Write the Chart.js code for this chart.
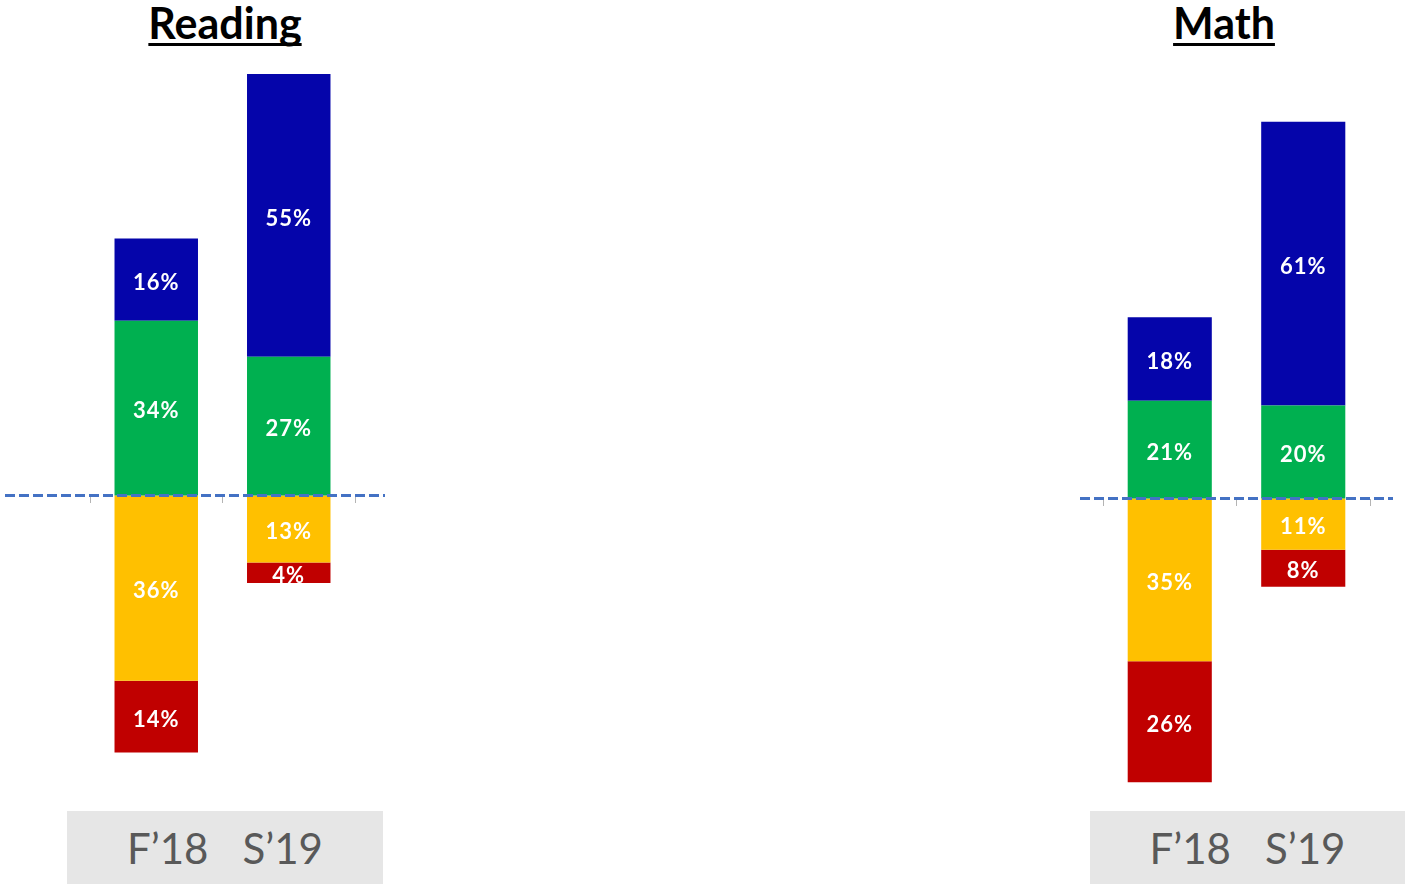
<!DOCTYPE html>
<html lang="en">
<head>
  <meta charset="UTF-8" />
  <title>Reading / Math F'18 v/s S'19</title>
  <script src="https://cdn.jsdelivr.net/npm/chart.js"></script>
  <style>
    body {
      margin: 0;
      width: 1405px;
      height: 889px;
      background: #fff;
      position: relative;
      overflow: hidden;
      font-family: Lato, "Open Sans", sans-serif;
    }
    .title {
      position: absolute;
      top: -3px;
      font-weight: 700;
      font-size: 43px;
      text-decoration: underline;
      text-decoration-thickness: 3px;
      text-underline-offset: 4px;
      text-decoration-skip-ink: none;
      color: #000;
      transform: translateX(-50%);
      white-space: nowrap;
    }
    .box {
      position: absolute;
      top: 811px;
      height: 73px;
      background: #e6e6e6;
      color: #595959;
      font-size: 42px;
      line-height: 75px;
      text-align: center;
      white-space: nowrap;
    }
    .box span + span { margin-left: 34px; }
    canvas { position: absolute; }
  </style>
</head>
<body>
  <div class="title" style="left:225px">Reading</div>
  <div class="title" style="left:1224px">Math</div>

  <div class="box" style="left:67px; width:316px"><span>F’18</span><span>S’19</span></div>
  <div class="box" style="left:1090px; width:315px"><span>F’18</span><span>S’19</span></div>

  <canvas id="readingChart" style="left:0px; top:33px" width="400" height="771"></canvas>
  <canvas id="mathChart" style="left:1070px; top:80px" width="335" height="744"></canvas>

  <script>
    const terms = ['F’18', 'S’19'];

    // positive side: green at the base, blue on top; negative side: yellow next to zero, red below
    const readingBlue = [16, 55];
    const readingGreen = [34, 27];
    const readingYellow = [-36, -13];
    const readingRed = [-14, -4];

    const mathBlue = [18, 61];
    const mathGreen = [21, 20];
    const mathYellow = [-35, -11];
    const mathRed = [-26, -8];

    const colors = {
      blue: '#0505aa',
      green: '#00b050',
      yellow: '#ffc000',
      red: '#c00000'
    };

    // dashed zero line on top of the bars + white % labels
    const zeroLinePlugin = {
      id: 'zeroLine',
      afterDatasetsDraw(chart, args, opts) {
        const ctx = chart.ctx;
        const area = chart.chartArea;
        const y = chart.scales.y.getPixelForValue(0);

        ctx.save();
        ctx.font = '700 22px Lato, "Open Sans", sans-serif';
        ctx.letterSpacing = '1px';
        ctx.fillStyle = '#ffffff';
        ctx.textAlign = 'center';
        ctx.textBaseline = 'middle';
        chart.data.datasets.forEach((ds, i) => {
          chart.getDatasetMeta(i).data.forEach((bar, j) => {
            const v = ds.data[j];
            ctx.fillText(Math.abs(v) + '%', bar.x, (bar.y + bar.base) / 2 + 3);
          });
        });
        ctx.restore();

        ctx.save();
        ctx.strokeStyle = '#4472c4';
        ctx.lineWidth = 3;
        ctx.setLineDash([10, 4]);
        ctx.beginPath();
        ctx.moveTo(area.left - opts.extendLeft, y);
        ctx.lineTo(area.right + opts.extendRight, y);
        ctx.stroke();
        ctx.restore();
      }
    };

    function makeChart(id, blue, green, yellow, red, yMin, yMax, pad, ext) {
      const ds = (data, color) => ({
        data: data,
        backgroundColor: color,
        borderWidth: 0,
        categoryPercentage: 1,
        barPercentage: 0.63
      });
      return new Chart(document.getElementById(id), {
        type: 'bar',
        data: {
          labels: terms,
          datasets: [
            ds(green, colors.green),
            ds(blue, colors.blue),
            ds(yellow, colors.yellow),
            ds(red, colors.red)
          ]
        },
        options: {
          responsive: false,
          animation: false,
          layout: { padding: { left: pad.left, right: pad.right, top: 0, bottom: 0 } },
          scales: {
            x: {
              stacked: true,
              position: { y: 0 },
              ticks: { display: false },
              border: { display: false },
              grid: {
                drawOnChartArea: false,
                drawTicks: true,
                tickLength: 7,
                color: '#b4b4b4'
              }
            },
            y: {
              stacked: true,
              display: false,
              min: yMin,
              max: yMax
            }
          },
          plugins: {
            legend: { display: false },
            tooltip: { enabled: false },
            zeroLine: ext
          }
        },
        plugins: [zeroLinePlugin]
      });
    }

    makeChart('readingChart', readingBlue, readingGreen, readingYellow, readingRed,
      -60, 90, { left: 90, right: 45 }, { extendLeft: 85, extendRight: 30 });
    makeChart('mathChart', mathBlue, mathGreen, mathYellow, mathRed,
      -70, 90, { left: 33, right: 35 }, { extendLeft: 23, extendRight: 23 });
  </script>
</body>
</html>
